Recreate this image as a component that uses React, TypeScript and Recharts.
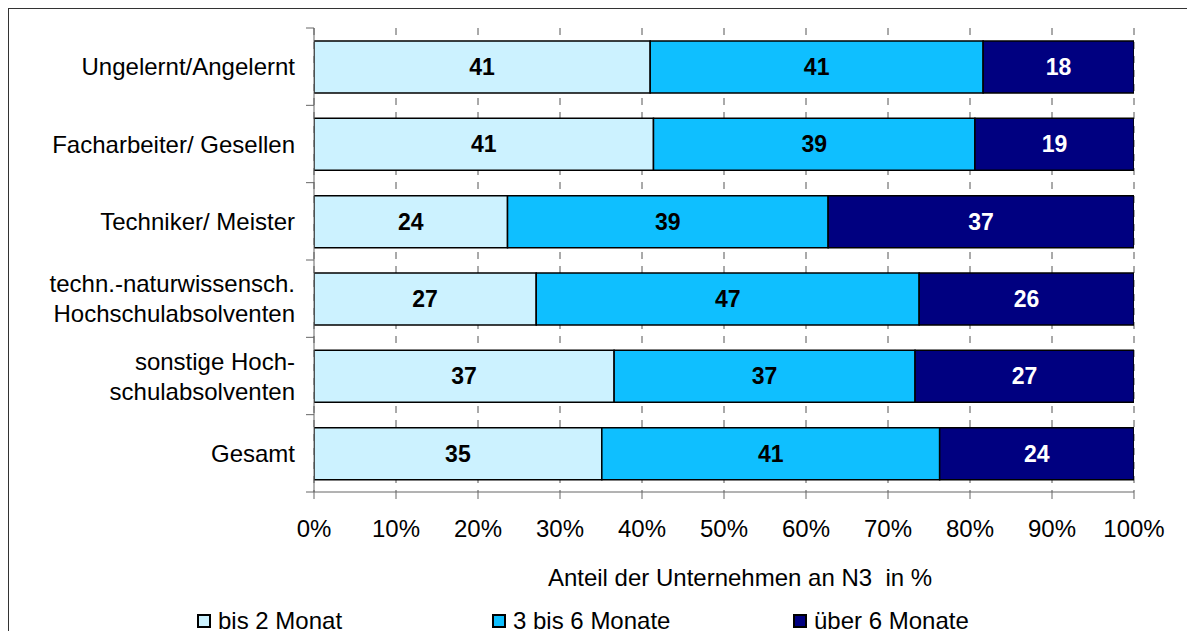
import React from 'react';
import { BarChart, Bar, XAxis, YAxis, CartesianGrid, Legend, LabelList } from 'recharts';

const categories = [
  'Ungelernt/Angelernt',
  'Facharbeiter/ Gesellen',
  'Techniker/ Meister',
  'techn.-naturwissensch.\nHochschulabsolventen',
  'sonstige Hoch-\nschulabsolventen',
  'Gesamt',
];
const bis2Monat = [41.0, 41.4, 23.6, 27.1, 36.6, 35.1];
const drei6Monate = [40.6, 39.2, 39.1, 46.7, 36.7, 41.2];
const ueber6Monate = [18.4, 19.4, 37.3, 26.2, 26.7, 23.7];
const seriesNames = ['bis 2 Monat', '3 bis 6 Monate', 'über 6 Monate'];
const xTicks = [0, 10, 20, 30, 40, 50, 60, 70, 80, 90, 100];
const axisTitle = 'Anteil der Unternehmen an N3\u00A0 in %';

const data = categories.map((c, i) => ({
  cat: c,
  a: bis2Monat[i],
  b: drei6Monate[i],
  c: ueber6Monate[i],
}));

const FONT = '"Liberation Sans", Arial, Helvetica, sans-serif';
const legendLeft = [188, 483, 784];
const PLOT_H = 464;
const BAND = PLOT_H / categories.length;

const CatTick = (props: any) => {
  const { x, y, payload, index } = props;
  const lines = String(payload.value).split('\n');
  const lh = 30;
  const axisX = x + 19;
  const isLast = index === categories.length - 1;
  return (
    <g>
      <line x1={axisX - 8} x2={axisX} y1={y - BAND / 2} y2={y - BAND / 2} stroke="#666" strokeWidth={1} />
      {isLast && <line x1={axisX - 8} x2={axisX} y1={y + BAND / 2} y2={y + BAND / 2} stroke="#666" strokeWidth={1} />}
      <text x={x} y={y} textAnchor="end" fontSize={24} fill="#000" fontFamily={FONT}>
        {lines.map((l, i) => (
          <tspan key={i} x={x} y={y + (i - (lines.length - 1) / 2) * lh} dy="0.355em">
            {l}
          </tspan>
        ))}
      </text>
    </g>
  );
};

const LegendContent = (props: any) => {
  const payload = [...(props.payload || [])].sort(
    (p: any, q: any) => seriesNames.indexOf(p.value) - seriesNames.indexOf(q.value)
  );
  return (
    <div style={{ position: 'relative', height: 28, width: 1186, fontFamily: FONT, fontSize: 24, color: '#000' }}>
      {payload.map((p: any, i: number) => (
        <div
          key={i}
          style={{ position: 'absolute', left: legendLeft[i], top: 0, height: 28, display: 'flex', alignItems: 'center', whiteSpace: 'nowrap' }}
        >
          <span
            style={{ display: 'inline-block', width: 14, height: 14, border: '2px solid #000', background: p.color, marginRight: 7, boxSizing: 'border-box' }}
          />
          <span>{p.value}</span>
        </div>
      ))}
    </div>
  );
};

const fmt = (v: any) => String(Math.round(Number(v)));

export default function App() {
  return (
    <div
      style={{
        width: 1187,
        height: 631,
        boxSizing: 'border-box',
        borderTop: '1px solid #333',
        borderLeft: '1px solid #333',
        marginBottom: -8,
        overflow: 'hidden',
        background: '#fff',
      }}
    >
      <BarChart
        width={1186}
        height={630}
        data={data}
        layout="vertical"
        margin={{ top: 19, right: 61, bottom: 4, left: 5 }}
        barSize={52}
      >
        <CartesianGrid horizontal={false} vertical stroke="#555" strokeDasharray="7 7" />
        <XAxis
          type="number"
          domain={[0, 100]}
          ticks={xTicks}
          allowDataOverflow
          tickFormatter={(v: any) => `${v}%`}
          tick={{ fontSize: 24, fill: '#000', fontFamily: FONT }}
          tickSize={7}
          tickMargin={21}
          stroke="#666"
          height={115}
          interval={0}
          label={{
            value: axisTitle,
            position: 'insideBottom',
            offset: 21,
            dx: 16,
            fontSize: 24,
            fill: '#000',
            fontFamily: FONT,
          }}
        />
        <XAxis xAxisId="top" orientation="top" type="number" domain={[0, 100]} height={0} tick={false} tickLine={false} stroke="#999" />
        <YAxis
          type="category"
          dataKey="cat"
          width={300}
          tickLine={false}
          axisLine={{ stroke: '#666' }}
          tickSize={0}
          tickMargin={19}
          tick={<CatTick />}
          interval={0}
        />
        <YAxis yAxisId="right" orientation="right" type="number" domain={[0, 1]} width={0} tick={false} tickLine={false} stroke="#999" />
        <Legend verticalAlign="bottom" content={<LegendContent />} wrapperStyle={{ left: 0, width: 1186 }} />
        <Bar dataKey="a" name={seriesNames[0]} stackId="s" fill="#CCF2FF" stroke="#000" strokeWidth={1.5} isAnimationActive={false}>
          <LabelList dataKey="a" position="center" formatter={fmt} fill="#000" fontSize={23} fontWeight="bold" fontFamily={FONT} />
        </Bar>
        <Bar dataKey="b" name={seriesNames[1]} stackId="s" fill="#0FBFFF" stroke="#000" strokeWidth={1.5} isAnimationActive={false}>
          <LabelList dataKey="b" position="center" formatter={fmt} fill="#000" fontSize={23} fontWeight="bold" fontFamily={FONT} />
        </Bar>
        <Bar dataKey="c" name={seriesNames[2]} stackId="s" fill="#000080" stroke="#000" strokeWidth={1.5} isAnimationActive={false}>
          <LabelList dataKey="c" position="center" formatter={fmt} fill="#fff" fontSize={23} fontWeight="bold" fontFamily={FONT} />
        </Bar>
      </BarChart>
    </div>
  );
}
